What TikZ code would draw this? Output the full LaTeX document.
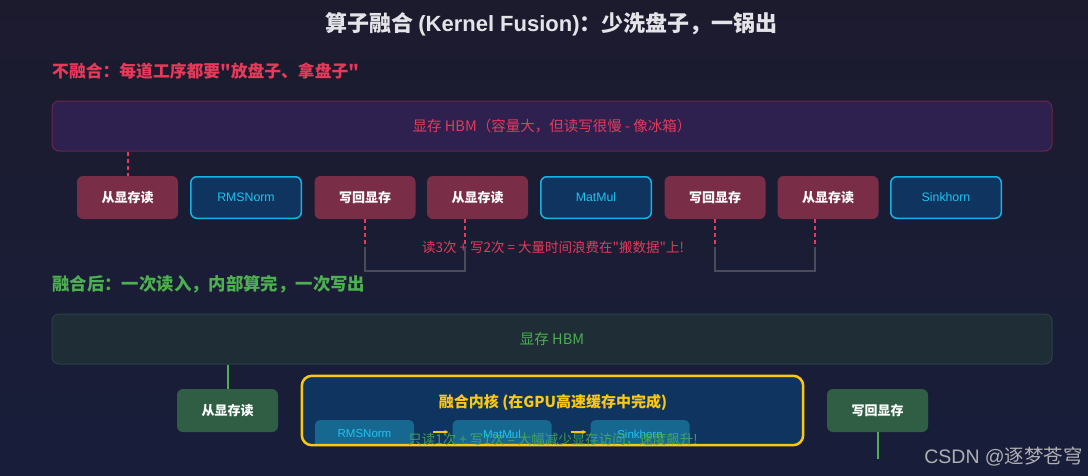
\documentclass[tikz,border=0pt]{standalone}
\usepackage{fontspec}
\setmainfont{Noto Sans CJK SC}
\newfontfamily\lat{Liberation Sans}
\newcommand\sq{\XeTeXglyph\XeTeXcharglyph"22\relax}
\usetikzlibrary{calc,arrows.meta}
\definecolor{bgtop}{RGB}{28,27,46}
\definecolor{bgbot}{RGB}{24,30,58}
\definecolor{titlec}{RGB}{228,228,232}
\definecolor{redc}{RGB}{230,58,90}
\definecolor{purplefill}{RGB}{46,33,80}
\definecolor{purpleedge}{RGB}{105,38,72}
\definecolor{rednode}{RGB}{122,45,70}
\definecolor{bluefill}{RGB}{15,52,96}
\definecolor{cyanedge}{RGB}{20,180,230}
\definecolor{cyantext}{RGB}{30,195,240}
\definecolor{greenc}{RGB}{76,175,80}
\definecolor{greenfill}{RGB}{30,45,54}
\definecolor{greenedge}{RGB}{42,66,66}
\definecolor{greennode}{RGB}{47,94,68}
\definecolor{yellowc}{RGB}{250,200,20}
\definecolor{innerfill}{RGB}{23,104,145}
\definecolor{grayline}{RGB}{75,75,90}
\definecolor{wm}{RGB}{175,175,180}
\tikzset{
  redbox/.style={rectangle, rounded corners=6pt, fill=rednode, minimum width=101pt, minimum height=43pt, inner sep=0pt, text=white, font=\fontsize{13}{15}\selectfont\bfseries},
  bluebox/.style={rectangle, rounded corners=6pt, fill=bluefill, draw=cyanedge, line width=1.5pt, minimum width=110.5pt, minimum height=41.5pt, inner sep=0pt, text=cyantext, font=\lat\fontsize{12.3}{14}\selectfont},
  greenbox/.style={rectangle, rounded corners=6pt, fill=greennode, minimum width=101pt, minimum height=43pt, inner sep=0pt, text=white, font=\fontsize{13}{15}\selectfont\bfseries},
  innerbox/.style={rectangle, rounded corners=5pt, fill=innerfill, minimum width=99pt, minimum height=28pt, inner sep=0pt, text=cyantext, font=\lat\fontsize{11.5}{13}\selectfont},
  hbmbox/.style={rectangle, rounded corners=7pt, minimum width=1000pt, minimum height=50pt, inner sep=0pt, line width=1pt},
  reddash/.style={draw=redc, line width=2pt, dash pattern=on 4pt off 3pt},
  heading/.style={anchor=west, inner sep=0pt, font=\fontsize{17.4}{20}\selectfont\bfseries},
  note/.style={inner sep=0pt, font=\fontsize{13.5}{16}\selectfont},
}
\begin{document}
\begin{tikzpicture}[x=1pt,y=-1pt]
\shade[top color=bgtop, bottom color=bgbot] (0,0) rectangle (1088,475);
\useasboundingbox (0,0) rectangle (1088,475);

% title
\node[inner sep=0pt, text=titlec, font=\fontsize{22}{26}\selectfont\bfseries] (title) at (551.5,24) {算子融合 {\lat (Kernel Fusion)}：少洗盘子，一锅出};

% ---------- without fusion ----------
\node[heading, text=redc, font=\fontsize{16.8}{20}\selectfont\bfseries] (h1) at (52,71) {不融合：每道工序都要\sq 放盘子、拿盘子\sq};
\node[hbmbox, fill=purplefill, draw=purpleedge, text=redc, font=\fontsize{14.5}{17}\selectfont] (hbm1) at (552,126) {显存 HBM（容量大，但读写很慢 - 像冰箱）};

\node[redbox]  (n1) at (127.5,197.5) {从显存读};
\node[bluebox] (rms) at (246,197.5) {RMSNorm};
\node[redbox]  (w1) at (365,197.5) {写回显存};
\node[redbox]  (r2) at (477.5,197.5) {从显存读};
\node[bluebox] (mm) at (596,197.5) {MatMul};
\node[redbox]  (w2) at (715,197.5) {写回显存};
\node[redbox]  (r3) at (828,197.5) {从显存读};
\node[bluebox] (sk) at (946,197.5) {Sinkhorn};

\draw[reddash] (n1.north |- hbm1.south) -- (n1.north);

\node[note, text=redc] (waste) at (553,247) {读3次 + 写2次 = 大量时间浪费在\sq 搬数据\sq 上!};

\coordinate (k1a) at (365,247);
\coordinate (k1b) at (465,247);
\coordinate (k2a) at (715,247);
\coordinate (k2b) at (815,247);
\draw[reddash] (w1.south) -- (k1a);
\draw[reddash] (k1b |- r2.south) -- (k1b);
\draw[grayline, line width=2pt] (k1a) -- ++(0,24) -| (k1b);
\draw[reddash] (w2.south) -- (k2a);
\draw[reddash] (k2b |- r3.south) -- (k2b);
\draw[grayline, line width=2pt] (k2a) -- ++(0,24) -| (k2b);

% ---------- with fusion ----------
\node[heading, text=greenc] (h2) at (52,284) {融合后：一次读入，内部算完，一次写出};
\node[hbmbox, fill=greenfill, draw=greenedge, text=greenc, font=\fontsize{14.5}{17}\selectfont] (hbm2) at (552,339) {显存 HBM};

\node[greenbox] (gr1) at (227.5,410.5) {从显存读};
\node[greenbox] (gw1) at (877.5,410.5) {写回显存};
\draw[draw=greenc, line width=2pt] (gr1.north |- hbm2.south) -- (gr1.north);
\coordinate (gout) at (877.5,459);
\draw[draw=greenc, line width=2pt] (gw1.south) -- (gout);

\node[rectangle, rounded corners=10pt, fill=bluefill, minimum width=501pt, minimum height=69pt, inner sep=0pt] (kern) at (552.5,410.5) {};
\begin{scope}
\clip[rounded corners=10pt] (kern.south west) rectangle (kern.north east);
\node[innerbox] (irms) at (364.5,434) {RMSNorm};
\node[innerbox] (imm) at (502,434) {MatMul};
\node[innerbox] (isk) at (640,434) {Sinkhorn};
\end{scope}
\draw[yellowc, line width=2.5pt, rounded corners=10pt] (kern.south west) rectangle (kern.north east);
\node[inner sep=0pt, text=yellowc, font=\fontsize{15}{18}\selectfont\bfseries] (ktitle) at (553,402) {融合内核 (在GPU高速缓存中完成)};
\draw[yellowc, line width=1.2pt, -{Stealth[length=4pt,width=4pt]}] ($(irms.east)+(19,-2)$) -- ($(imm.west)+(-4,-2)$);
\draw[yellowc, line width=1.2pt, -{Stealth[length=4pt,width=4pt]}] ($(imm.east)+(19,-2)$) -- ($(isk.west)+(-4,-2)$);
\node[note, text=greenc, opacity=0.85] (gain) at (553,440) {只读1次 + 写1次 = 大幅减少显存访问，速度飙升!};

% watermark
\node[anchor=east, inner sep=0pt, text=wm, font=\fontsize{19.5}{22}\selectfont] (wmark) at (1083,457) {{\lat CSDN @}逐梦苍穹};
\end{tikzpicture}
\end{document}
